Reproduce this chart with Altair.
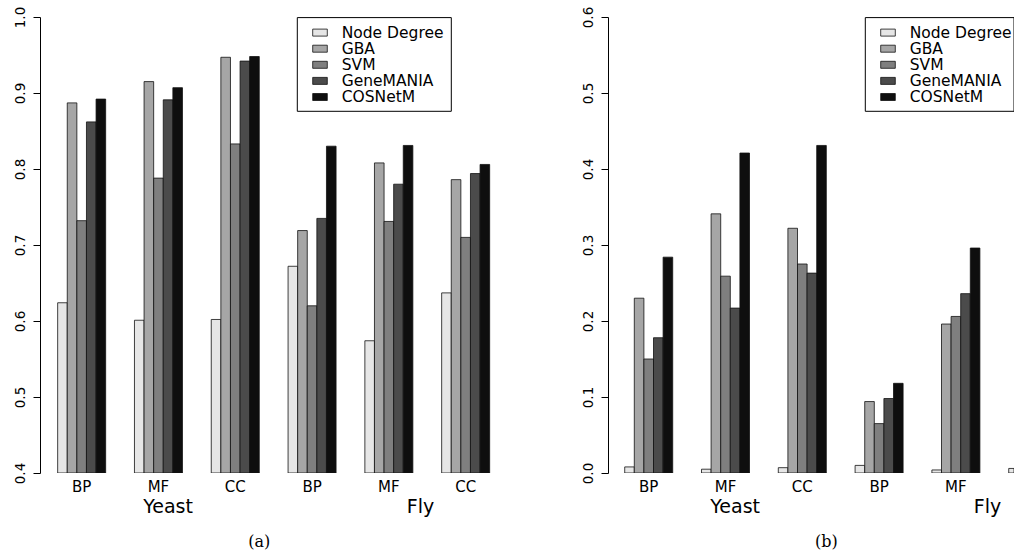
import altair as alt
import pandas as pd

# ---------------- data ----------------
methods = ["Node Degree", "GBA", "SVM", "GeneMANIA", "COSNetM"]
ontologies = ["BP", "MF", "CC", "BP", "MF", "CC"]
species = ["Yeast", "Fly"]
grays = ["#E6E6E6", "#A6A6A6", "#7F7F7F", "#4B4B4B", "#0E0E0E"]

# panel (a): groups = Yeast BP, MF, CC, Fly BP, MF, CC
a_node = [0.624, 0.601, 0.602, 0.672, 0.574, 0.637]
a_gba = [0.887, 0.915, 0.947, 0.719, 0.808, 0.786]
a_svm = [0.732, 0.788, 0.833, 0.620, 0.731, 0.710]
a_gm = [0.862, 0.891, 0.942, 0.735, 0.780, 0.794]
a_cos = [0.892, 0.907, 0.948, 0.830, 0.831, 0.806]

# panel (b): the last group is cut off at the right edge of the figure
b_node = [0.008, 0.005, 0.007, 0.010, 0.004, 0.006]
b_gba = [0.230, 0.341, 0.322, 0.094, 0.196, None]
b_svm = [0.150, 0.259, 0.275, 0.065, 0.206, None]
b_gm = [0.178, 0.217, 0.263, 0.098, 0.236, None]
b_cos = [0.284, 0.421, 0.431, 0.118, 0.296, None]

a_ticks = [0.4, 0.5, 0.6, 0.7, 0.8, 0.9, 1.0]
b_ticks = [0.0, 0.1, 0.2, 0.3, 0.4, 0.5, 0.6]

# ---------------- layout ----------------
PX = 9.6          # pixels per bar unit
H = 456           # plot height
GROUP = 8         # 5 bars + 3 bars gap
FIRST = 3
species_pos = [14.5, 40.8]
caption_pos = 24.0
SANS = "DejaVu Sans"
SERIF = "DejaVu Serif"


def panel(vals, ticks, width, left_pad_units, caption):
    y0, y1 = ticks[0], ticks[-1]
    x0 = FIRST - left_pad_units
    x1 = x0 + width / PX
    PY = (y1 - y0) / H

    rows = []
    for m_i, (m, series) in enumerate(zip(methods, vals)):
        for g_i, v in enumerate(series):
            if v is None:
                continue
            rows.append({"method": m, "m": m_i, "g": g_i, "value": v})
    df = pd.DataFrame(rows)

    xsc = alt.Scale(domain=[x0, x1], nice=False, zero=False)
    ysc = alt.Scale(domain=[y0, y1], nice=False, zero=False)
    color = alt.Color("method:N", scale=alt.Scale(domain=methods, range=grays), legend=None)

    bars = alt.Chart(df).transform_calculate(
        xs=f"datum.g * {GROUP} + datum.m + {FIRST}",
        xe=f"min(datum.g * {GROUP} + datum.m + {FIRST + 1}, {x1})",
    ).transform_filter(f"datum.xs < {x1}").mark_rect(
        clip=True, stroke="#111111", strokeWidth=0.8
    ).encode(
        x=alt.X("xs:Q", scale=xsc, axis=None),
        x2="xe:Q",
        y=alt.Y("value:Q", scale=ysc, axis=alt.Axis(
            values=ticks, format=".1f", labelAngle=270, labelAlign="center",
            labelBaseline="alphabetic", tickSize=7, labelPadding=9, grid=False,
            domainColor="black", tickColor="black", labelColor="black",
            labelFont=SANS, labelFontSize=13.5, title=None, labelOverlap=False,
            domainWidth=1, tickWidth=1)),
        y2=alt.datum(y0),
        color=color,
    )

    gdf = pd.DataFrame({"g": list(range(len(ontologies))), "label": ontologies})
    glabels = alt.Chart(gdf).transform_calculate(
        xc=f"datum.g * {GROUP} + {FIRST} + 2.5"
    ).transform_filter(f"datum.xc < {x1}").mark_text(
        font=SANS, fontSize=15, baseline="middle", dy=13.5, color="black"
    ).encode(
        x=alt.X("xc:Q", scale=xsc), y=alt.datum(y0), text="label:N"
    )

    sdf = pd.DataFrame({"label": species, "xc": species_pos})
    slabels = alt.Chart(sdf).mark_text(
        font=SANS, fontSize=19, baseline="middle", dy=34, color="black"
    ).encode(x=alt.X("xc:Q", scale=xsc), y=alt.datum(y0), text="label:N")

    cdf = pd.DataFrame({"label": [caption], "xc": [caption_pos]})
    clabel = alt.Chart(cdf).mark_text(
        font=SERIF, fontSize=16, baseline="middle", dy=69, color="black"
    ).encode(x=alt.X("xc:Q", scale=xsc), y=alt.datum(y0), text="label:N")

    # legend drawn inside the plot (top right), cut at the plot edge
    ux = lambda px: min(x0 + px / PX, x1)
    uy = lambda py: y1 - py * PY
    box = alt.Chart(pd.DataFrame({"a": [0]})).mark_rect(
        clip=True, fill="white", stroke="black", strokeWidth=1
    ).encode(
        x=alt.datum(ux(257.3), scale=xsc), x2=alt.datum(ux(411.3)),
        y=alt.datum(uy(0.6)), y2=alt.datum(uy(94.3)),
    )
    ldf = pd.DataFrame({"method": methods, "i": list(range(len(methods)))})
    ldf["yc"] = [uy(15.6 + 16.1 * i) for i in ldf["i"]]
    ldf["yt"] = [uy(15.6 + 16.1 * i - 3.5) for i in ldf["i"]]
    ldf["yb"] = [uy(15.6 + 16.1 * i + 3.5) for i in ldf["i"]]
    sw = alt.Chart(ldf).mark_rect(clip=True, stroke="#111111", strokeWidth=0.8).encode(
        x=alt.datum(ux(272.7), scale=xsc), x2=alt.datum(ux(287.3)),
        y=alt.Y("yt:Q", scale=ysc), y2="yb:Q", color=color,
    )
    lt = alt.Chart(ldf).mark_text(
        font=SANS, fontSize=15.5, align="left", baseline="middle", color="black"
    ).encode(
        x=alt.datum(ux(301.7), scale=xsc), y=alt.Y("yc:Q", scale=ysc), text="method:N"
    )

    return alt.layer(bars, glabels, slabels, clabel, box, sw, lt).properties(
        width=width, height=H
    )


pa = panel([a_node, a_gba, a_svm, a_gm, a_cos], a_ticks, 467, 1.84, "(a)")
pb = panel([b_node, b_gba, b_svm, b_gm, b_cos], b_ticks, 406, 1.74, "(b)")

chart = alt.hconcat(pa, pb, spacing=101, bounds="flush").properties(
    padding={"left": 13, "top": 6, "right": 0, "bottom": 0},
    background="white",
).configure_view(stroke=None)

chart.save("out.html", embed_options={"renderer": "svg", "actions": False})
